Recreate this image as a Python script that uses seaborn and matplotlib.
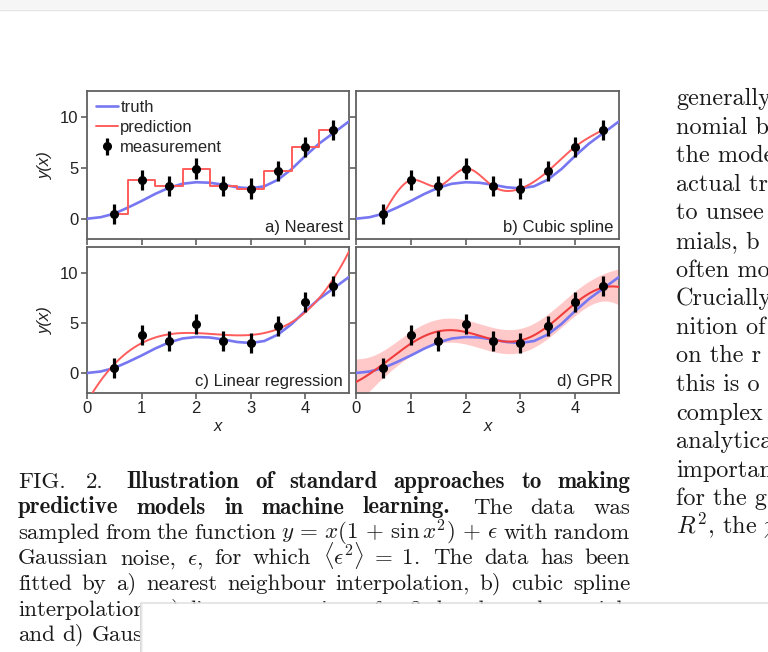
import numpy as np
import matplotlib
matplotlib.use("Agg")
import matplotlib.pyplot as plt
import seaborn as sns
from matplotlib.patches import Rectangle
from matplotlib.lines import Line2D

# ---------------- data ----------------
x_meas = [0.5, 1.0, 1.5, 2.0, 2.5, 3.0, 3.5, 4.0, 4.5]
y_meas = [0.5, 3.8, 3.2, 4.95, 3.2, 2.97, 4.68, 7.1, 8.74]
y_err = [1.0, 1.0, 1.0, 1.0, 1.0, 1.0, 1.0, 1.0, 1.0]

x_truth = [0.0, 0.25, 0.5, 0.75, 1.0, 1.25, 1.5, 1.75, 2.0, 2.25, 2.5,
           2.75, 3.0, 3.25, 3.5, 3.75, 4.0, 4.25, 4.5, 4.65, 4.8]
y_truth = [0.0, 0.15, 0.5, 1.1, 1.75, 2.45, 3.05, 3.45, 3.6, 3.55, 3.35,
           3.1, 3.0, 3.2, 3.85, 4.9, 6.2, 7.4, 8.4, 9.0, 9.6]

panel_names = ["a) Nearest", "b) Cubic spline", "c) Linear regression", "d) GPR"]
x_ticks = [0, 1, 2, 3, 4]
y_ticks = [0, 5, 10]
x_range = (0.0, 4.8)
y_range = (-2.0, 12.6)

poly_order = 3
gp_amplitude = 6.0
gp_length = 1.15
gp_noise = 1.0

C_TRUTH = "#7777f2"
C_PRED = "#ff5c5c"
C_BAND = "#ffb8b8"
C_FRAME = "#606060"
FS = 12

W, H = 768, 652

# ---------------- fitted models ----------------
xm = np.array(x_meas)
ym = np.array(y_meas)


def natural_spline(x, y, xs):
    n = len(x) - 1
    h = np.diff(x)
    A = np.zeros((n + 1, n + 1))
    r = np.zeros(n + 1)
    A[0, 0] = A[n, n] = 1.0
    for i in range(1, n):
        A[i, i - 1] = h[i - 1]
        A[i, i] = 2 * (h[i - 1] + h[i])
        A[i, i + 1] = h[i]
        r[i] = 6 * ((y[i + 1] - y[i]) / h[i] - (y[i] - y[i - 1]) / h[i - 1])
    M = np.linalg.solve(A, r)
    idx = np.clip(np.searchsorted(x, xs) - 1, 0, n - 1)
    x0, x1, hh = x[idx], x[idx + 1], h[idx]
    return (M[idx] * (x1 - xs) ** 3 / (6 * hh) + M[idx + 1] * (xs - x0) ** 3 / (6 * hh)
            + (y[idx] / hh - M[idx] * hh / 6) * (x1 - xs)
            + (y[idx + 1] / hh - M[idx + 1] * hh / 6) * (xs - x0))


def gaussian_process(x, y, xs, amp, ls, noise):
    """Posterior mean and predictive std (latent variance plus noise)."""
    def k(a, b):
        return amp ** 2 * np.exp(-0.5 * (a[:, None] - b[None, :]) ** 2 / ls ** 2)
    K = k(x, x) + noise ** 2 * np.eye(len(x))
    Ks = k(xs, x)
    mu = Ks @ np.linalg.solve(K, y)
    v = np.linalg.solve(K, Ks.T)
    var = amp ** 2 - np.sum(Ks * v.T, axis=1)
    return mu, np.sqrt(np.maximum(var, 0) + noise ** 2)


xs_in = np.linspace(x_meas[0], x_meas[-1], 300)
xs_all = np.linspace(x_range[0], x_range[1], 300)
spline_y = natural_spline(xm, ym, xs_in)
poly_y = np.polyval(np.polyfit(xm, ym, poly_order), xs_all)
gp_mu, gp_sd = gaussian_process(xm, ym, xs_all, gp_amplitude, gp_length, gp_noise)

# ---------------- figure ----------------
sns.set_style("ticks")
plt.rcParams["font.family"] = ["Liberation Sans", "DejaVu Sans"]
plt.rcParams["mathtext.fontset"] = "cm"
plt.rcParams["axes.linewidth"] = 1.3

fig = plt.figure(figsize=(W / 100, H / 100), dpi=100)


def px_axes(left, top, right, bottom):
    return fig.add_axes([left / W, 1 - bottom / H, (right - left) / W, (bottom - top) / H])


ax_a = px_axes(87, 91, 349, 239)
ax_b = px_axes(356, 91, 619, 239)
ax_c = px_axes(87, 247, 349, 393)
ax_d = px_axes(356, 247, 619, 393)
axes = [ax_a, ax_b, ax_c, ax_d]

for i, ax in enumerate(axes):
    sns.lineplot(x=x_truth, y=y_truth, ax=ax, color=C_TRUTH, lw=1.9,
                 estimator=None, sort=False, zorder=3, label="truth" if i == 0 else None)

# a) nearest neighbour
sns.lineplot(x=x_meas, y=y_meas, ax=ax_a, color=C_PRED, lw=1.4, estimator=None,
             drawstyle="steps-mid", zorder=4, label="prediction")
# b) cubic spline
sns.lineplot(x=xs_in, y=spline_y, ax=ax_b, color=C_PRED, lw=1.4, estimator=None, zorder=4)
# c) polynomial regression
sns.lineplot(x=xs_all, y=poly_y, ax=ax_c, color=C_PRED, lw=1.4, estimator=None, zorder=4)
# d) GPR with one-sigma predictive band
ax_d.fill_between(xs_all, gp_mu - gp_sd, gp_mu + gp_sd,
                  color=C_BAND, alpha=0.75, lw=0, zorder=2)
sns.lineplot(x=xs_all, y=gp_mu, ax=ax_d, color="#f03c3c", lw=1.5, estimator=None, zorder=4)

for i, ax in enumerate(axes):
    ax.errorbar(x_meas, y_meas, yerr=y_err, fmt="o", color="black", ms=5.5,
                elinewidth=2.3, capsize=0, zorder=6,
                label="measurement" if i == 0 else None)
    ax.set_xlim(*x_range)
    ax.set_ylim(*y_range)
    ax.set_xticks(x_ticks)
    ax.set_yticks(y_ticks)
    ax.tick_params(direction="out", length=4, width=1.2, color=C_FRAME,
                   labelsize=FS, labelcolor="#222222", pad=2)
    for s in ax.spines.values():
        s.set_color(C_FRAME)
        s.set_visible(True)
    ax.text(0.977, 0.047, panel_names[i], transform=ax.transAxes, ha="right",
            va="baseline", fontsize=FS, color="#222222", zorder=7)
    if ax.get_legend() is not None and i != 0:
        ax.get_legend().remove()

for ax in (ax_a, ax_b):
    ax.tick_params(labelbottom=False)
for ax in (ax_b, ax_d):
    ax.tick_params(labelleft=False)
for ax in (ax_a, ax_c):
    ax.set_ylabel("y(x)", fontstyle="italic", fontsize=FS, labelpad=5, color="#222222")
for ax in (ax_c, ax_d):
    ax.set_xlabel("x", fontstyle="italic", fontsize=FS, labelpad=2, color="#222222")

h, l = ax_a.get_legend_handles_labels()
order = [l.index("truth"), l.index("prediction"), l.index("measurement")]
ax_a.legend([h[j] for j in order], [l[j] for j in order], loc="upper left",
            frameon=False, fontsize=FS, handlelength=1.3, handletextpad=0.15,
            labelspacing=0.3, borderaxespad=0.05, borderpad=0.5)

# ---------------- caption and body text ----------------
RM = dict(family="cmr10")
BF = dict(family="cmb10")
CAP_SIZE = 16.5
BODY_SIZE = 17.5

caption_lines = [
    [("FIG.", "rm"), ("2.", "rm"), ("Illustration", "bf"), ("of", "bf"), ("standard", "bf"),
     ("approaches", "bf"), ("to", "bf"), ("making", "bf")],
    [("predictive", "bf"), ("models", "bf"), ("in", "bf"), ("machine", "bf"),
     ("learning.", "bf"), ("The", "rm"), ("data", "rm"), ("was", "rm")],
    [("sampled", "rm"), ("from", "rm"), ("the", "rm"), ("function", "rm"),
     (r"$y\,=\,x(1\,+\,\sin x^2)\,+\,\epsilon$", "rm"), ("with", "rm"), ("random", "rm")],
    [("Gaussian", "rm"), ("noise,", "rm"), (r"$\epsilon$,", "rm"), ("for", "rm"),
     ("which", "rm"), (r"$\langle\epsilon^2\rangle\;=\;1$.", "rm"), ("The", "rm"),
     ("data", "rm"), ("has", "rm"), ("been", "rm")],
    [("fitted", "rm"), ("by", "rm"), ("a)", "rm"), ("nearest", "rm"), ("neighbour", "rm"),
     ("interpolation,", "rm"), ("b)", "rm"), ("cubic", "rm"), ("spline", "rm")],
    [("interpolation,", "rm"), ("c)", "rm"), ("linear", "rm"), ("regression", "rm"),
     ("of", "rm"), ("a", "rm"), ("3rd", "rm"), ("order", "rm"), ("polynomial,", "rm")],
    [("and", "rm"), ("d)", "rm"), ("Gaussian", "rm"), ("process", "rm"),
     ("regression.", "rm")],
]
body_lines = ["generally", "nomial b", "the mode", "actual tr", "to unsee", "mials, b",
              "often mo", "Crucially", "nition of", "on the r", "this is o", "complex",
              "analytica", "importan", "for the g", r"$R^2$, the $\chi$"]

renderer = fig.canvas.get_renderer()


def place_line(tokens, base_px, x0, x1, size, justify=True):
    arts = []
    for word, style in tokens:
        fam = RM if style == "rm" else BF
        arts.append(fig.text(0, 1 - base_px / H, word, fontsize=size, va="baseline",
                             ha="left", color="#1a1a1a", **fam))
    widths = [a.get_window_extent(renderer).width for a in arts]
    weights = [1.5 if w in ("2.",) else (1.25 if w.endswith(".") else 1.0)
               for w, _ in tokens[:-1]]
    if justify:
        unit = (x1 - x0 - sum(widths)) / sum(weights)
    else:
        unit = size * 100 / 72 * 0.333
    x = x0
    for k, (a, w) in enumerate(zip(arts, widths)):
        a.set_x(x / W)
        if k < len(weights):
            x += w + unit * weights[k]


for k, toks in enumerate(caption_lines):
    place_line(toks, 488 + 25.5 * k, 18, 630, CAP_SIZE, justify=(k < len(caption_lines) - 1))

for k, line in enumerate(body_lines):
    fig.text(676 / W, 1 - (105 + 28.6 * k) / H, line, fontsize=BODY_SIZE,
             va="baseline", ha="left", color="#1a1a1a", **RM)

# window chrome: top bar and covering panel
fig.patches.append(Rectangle((0, 1 - 9 / H), 1, 9 / H, transform=fig.transFigure,
                             facecolor="#f6f6f6", edgecolor="none", zorder=20))
fig.lines.append(Line2D([0, 1], [1 - 9.5 / H, 1 - 9.5 / H], transform=fig.transFigure,
                        color="#e4e4e4", lw=1, zorder=21))
for j, c in enumerate(["#d8d8d8", "#e6e6e6", "#f1f1f1"]):
    fig.patches.append(Rectangle(((140 + j) / W, 0), 1 / W, 49 / H, transform=fig.transFigure,
                                 facecolor=c, edgecolor="none", zorder=20))
fig.patches.append(Rectangle((143 / W, 0), 1, 48.5 / H, transform=fig.transFigure,
                             facecolor="white", edgecolor="none", zorder=21))
fig.lines.append(Line2D([141 / W, 1], [49 / H, 49 / H], transform=fig.transFigure,
                        color="#e2e2e2", lw=1.2, zorder=22))

fig.savefig("out.png", dpi=100)
